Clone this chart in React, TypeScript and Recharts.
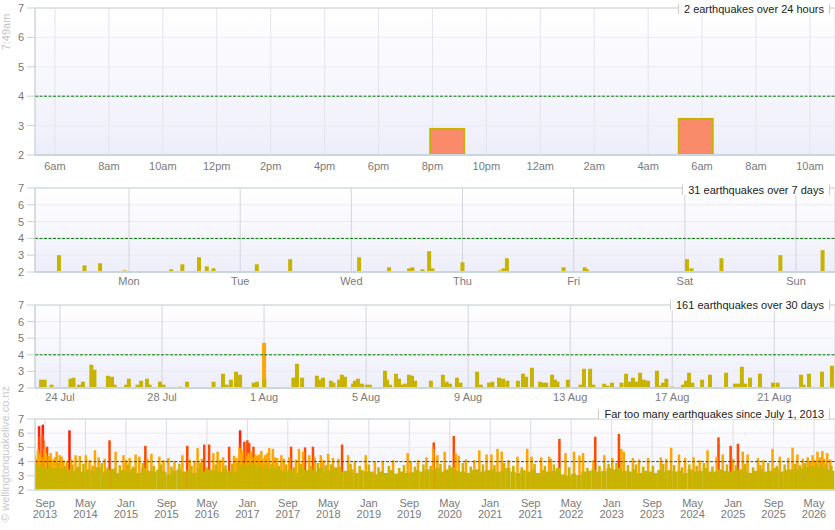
import React from 'react';
import { ComposedChart, Bar, XAxis, YAxis, CartesianGrid, ReferenceLine } from 'recharts';

const FONT = '"Liberation Sans", Arial, Helvetica, sans-serif';

// ---------- shared ----------
const magTicks = [2, 3, 4, 5, 6, 7];
const magDomain: [number, number] = [2, 7];
const alertMag = 4;

// ---------- panel 1 : last 24 hours (hours after midnight, Sat 22 Aug) ----------
const dayDomain: [number, number] = [5.26, 34.93];
const dayTicks = [6, 8, 10, 12, 14, 16, 18, 20, 22, 24, 26, 28, 30, 32, 34];
const dayTickLabels = ['6am', '8am', '10am', '12pm', '2pm', '4pm', '6pm', '8pm', '10pm', '12am', '2am', '4am', '6am', '8am', '10am'];
const dayHours = [20.54, 29.76];
const dayMags = [2.92, 3.26];

// ---------- panel 2 : last 7 days (days after Mon 17 Aug) ----------
const weekDomain: [number, number] = [-0.846, 6.351];
const weekTicks = [0, 1, 2, 3, 4, 5, 6];
const weekTickLabels = ['Mon', 'Tue', 'Wed', 'Thu', 'Fri', 'Sat', 'Sun'];
const weekDays = [-0.63, -0.4, -0.26, -0.04, 0.38, 0.48, 0.63, 0.7, 0.76, 1.15, 1.45, 2.07, 2.34, 2.52, 2.55, 2.64, 2.7, 2.71, 2.73, 3.0, 3.34, 3.37, 3.4, 3.91, 4.1, 4.12, 5.02, 5.06, 5.33, 5.86, 6.24];
const weekMags = [3.0, 2.4, 2.52, 2.1, 2.16, 2.46, 2.88, 2.34, 2.22, 2.46, 2.76, 2.88, 2.28, 2.22, 2.28, 2.16, 3.24, 2.2, 2.22, 2.58, 2.1, 2.22, 2.82, 2.28, 2.28, 2.16, 2.76, 2.22, 2.82, 3.0, 3.3];

// ---------- panel 3 : last 30 days (days after 24 Jul) ----------
const monthDomain: [number, number] = [-0.98, 30.38];
const monthTicks = [0, 4, 8, 12, 16, 20, 24, 28];
const monthTickLabels = ['24 Jul', '28 Jul', '1 Aug', '5 Aug', '9 Aug', '13 Aug', '17 Aug', '21 Aug'];
const monthDays = [
  -0.74, -0.6, -0.33, 0.41, 0.53, 0.74, 0.9, 1.23, 1.35, 1.88, 2.04, 2.14, 2.59, 2.7, 3.04, 3.18, 3.41, 3.51, 3.92, 4.06,
  4.7, 4.98, 6.02, 6.39, 6.53, 6.7, 6.9, 7.06, 7.59, 7.72, 8.0, 8.01, 9.15, 9.29, 9.49, 10.07, 10.19, 10.31, 10.62, 10.72,
  10.94, 11.05, 11.17, 11.49, 11.56, 11.68, 11.84, 12.03, 12.15, 12.74, 12.82, 12.94, 13.17, 13.29, 13.37, 13.52, 13.68, 13.8, 13.92,
  14.54, 15.01, 15.15, 15.29, 15.56, 15.7, 16.35, 16.5, 16.82, 16.95, 17.21, 17.37, 17.54, 17.95, 18.15, 18.27, 18.5, 18.82,
  18.96, 19.06, 19.29, 19.4, 19.5, 19.91, 20.4, 20.54, 20.78, 20.91, 21.33, 21.46, 21.64, 22.01, 22.19, 22.32, 22.46, 22.6,
  22.74, 22.89, 23.05, 23.4, 23.54, 23.64, 23.77, 23.99, 24.42, 24.54, 24.66, 24.79, 25.17, 25.48, 26.11, 26.46, 26.6, 26.73,
  26.85, 27.05, 27.44, 27.95, 28.13, 29.05, 29.15, 29.36, 29.87, 30.26,
];
const monthMags = [
  2.5, 2.5, 2.2, 2.56, 2.62, 2.2, 2.38, 3.4, 3.1, 2.74, 2.68, 2.2, 2.2, 2.56, 2.2, 2.44, 2.56, 2.2, 2.38, 2.2,
  2.08, 2.38, 2.38, 2.86, 2.2, 2.5, 2.98, 2.8, 2.32, 2.38, 4.72, 2.56, 2.62, 3.46, 2.62, 2.74, 2.5, 2.62, 2.44, 2.32,
  2.5, 2.8, 2.68, 2.26, 2.44, 2.56, 2.26, 2.2, 2.2, 3.04, 2.5, 2.2, 2.86, 2.56, 2.2, 2.26, 2.8, 2.74, 2.44,
  2.44, 2.8, 2.38, 2.26, 2.62, 2.32, 2.98, 2.2, 2.32, 2.38, 2.62, 2.56, 2.44, 2.44, 2.86, 2.68, 3.22, 2.38,
  2.32, 2.32, 2.8, 2.5, 2.38, 2.5, 2.2, 3.16, 3.16, 2.2, 2.26, 2.14, 2.32, 2.32, 2.86, 2.38, 2.62, 2.38,
  2.92, 2.5, 2.44, 3.04, 2.14, 2.32, 2.56, 2.08, 2.2, 2.44, 2.92, 2.32, 2.5, 2.8, 2.92, 2.26, 2.26, 3.28,
  2.26, 2.62, 2.86, 2.32, 2.32, 2.8, 2.2, 2.86, 2.98, 3.34,
];

// ---------- panel 4 : since July 1, 2013 (decimal years) ----------
const eraDomain: [number, number] = [2013.502, 2026.679];
const eraStart = 2013.5;
const eraTickLabels = ['Sep 2013', 'May 2014', 'Jan 2015', 'Sep 2015', 'May 2016', 'Jan 2017', 'Sep 2017', 'May 2018', 'Jan 2019', 'Sep 2019', 'May 2020', 'Jan 2021', 'Sep 2021', 'May 2022', 'Jan 2023', 'Sep 2023', 'May 2024', 'Jan 2025', 'Sep 2025', 'May 2026'];
// typical upper edge of the sub-4 mass per month, Jul 2013 .. Aug 2026
const eraMonthlyLevel = [
  3.6, 3.65, 3.5, 3.55, 3.45, 3.5,
  3.45, 3.35, 3.55, 3.3, 3.45, 3.35, 3.6, 3.25, 3.4, 3.5, 3.2, 3.4,
  3.3, 3.5, 3.2, 3.55, 3.35, 3.3, 3.45, 3.3, 3.1, 3.35, 3.45, 3.3,
  3.4, 3.2, 3.55, 3.3, 3.45, 3.35, 3.3, 3.5, 3.35, 3.3, 3.65, 3.75,
  3.75, 3.7, 3.65, 3.6, 3.5, 3.55, 3.4, 3.3, 3.45, 3.2, 3.55, 3.4,
  3.45, 3.3, 3.55, 3.35, 3.4, 3.6, 3.3, 3.35, 3.45, 3.2, 3.4, 3.3,
  3.3, 3.1, 3.3, 3.2, 3.4, 3.15, 3.3, 3.2, 3.25, 3.4, 3.3, 3.45,
  3.4, 3.55, 3.3, 3.45, 3.6, 3.35, 3.3, 3.2, 3.4, 3.45, 3.3, 3.4,
  3.45, 3.3, 3.35, 3.55, 3.3, 3.2, 3.4, 3.3, 3.45, 3.2, 3.4, 3.3,
  3.35, 3.55, 3.1, 3.0, 3.15, 3.05, 3.3, 3.35, 3.45, 3.3, 3.35, 3.55,
  3.45, 3.55, 3.35, 3.3, 3.45, 3.2, 3.35, 3.3, 3.2, 3.4, 3.3, 3.4,
  3.3, 3.35, 3.2, 3.45, 3.3, 3.35, 3.55, 3.3, 3.3, 3.45, 3.35, 3.3,
  3.35, 3.45, 3.3, 3.2, 3.35, 3.45, 3.3, 3.35, 3.55, 3.3, 3.4, 3.45,
  3.4, 3.55, 3.6, 3.7, 3.65, 3.55, 3.45, 3.35,
];
// individual sub-4 quakes standing above the mass
const eraSmallYears = [
  2013.53, 2013.6, 2013.74, 2013.88, 2014.0, 2014.12, 2014.21, 2014.3, 2014.45, 2014.6, 2014.7, 2014.9, 2015.03, 2015.12, 2015.28,
  2015.46, 2015.58, 2015.75, 2015.88, 2016.08, 2016.22, 2016.33, 2016.48, 2016.64, 2016.75, 2016.85, 2016.94, 2017.05, 2017.11, 2017.2,
  2017.31, 2017.4, 2017.52, 2017.64, 2017.77, 2017.88, 2018.05, 2018.16, 2018.29, 2018.38, 2018.53, 2018.7, 2018.85, 2019.0, 2019.16,
  2019.33, 2019.5, 2019.58, 2019.76, 2019.9, 2020.02, 2020.18, 2020.33, 2020.55, 2020.68, 2020.88, 2021.07, 2021.23, 2021.38, 2021.52,
  2021.73, 2021.9, 2022.05, 2022.3, 2022.6, 2022.8, 2022.95, 2023.08, 2023.27, 2023.4, 2023.52, 2023.68, 2023.85, 2024.03, 2024.16,
  2024.28, 2024.4, 2024.52, 2024.66, 2024.9, 2025.05, 2025.2, 2025.33, 2025.45, 2025.58, 2025.72, 2025.85, 2026.02, 2026.1, 2026.19,
  2026.27, 2026.37, 2026.45, 2026.53, 2026.62,
];
const eraSmallMags = [
  3.9, 3.85, 3.8, 3.9, 3.7, 3.8, 3.65, 3.85, 3.7, 3.9, 3.6, 3.75, 3.8, 3.65, 3.9,
  3.7, 3.8, 3.65, 3.85, 3.7, 3.9, 3.6, 3.8, 3.75, 3.85, 3.95, 3.9, 3.95, 3.85, 3.9,
  3.8, 3.85, 3.7, 3.8, 3.6, 3.85, 3.7, 3.9, 3.75, 3.8, 3.65, 3.85, 3.7, 3.8, 3.6,
  3.7, 3.55, 3.75, 3.65, 3.8, 3.7, 3.85, 3.75, 3.9, 3.65, 3.8, 3.75, 3.9, 3.7, 3.6,
  3.85, 3.7, 3.8, 3.6, 3.55, 3.7, 3.85, 3.9, 3.75, 3.8, 3.65, 3.7, 3.85, 3.75, 3.6,
  3.8, 3.7, 3.9, 3.65, 3.8, 3.75, 3.85, 3.6, 3.75, 3.9, 3.7, 3.8, 3.85, 3.75, 3.9,
  3.95, 3.85, 3.9, 3.8, 3.7,
];
// individual M4+ quakes
const eraYears = [
  2013.57, 2013.57, 2013.63, 2013.63, 2013.64, 2013.7, 2014.07, 2014.73, 2015.32, 2016.01, 2016.29, 2016.37, 2016.7, 2016.88, 2016.88,
  2016.95, 2017.0, 2017.03, 2017.1, 2017.72, 2017.95, 2018.08, 2018.56, 2020.07, 2020.4, 2022.14, 2022.73, 2023.12, 2024.76, 2024.96, 2025.08,
  2013.5, 2013.52, 2013.55, 2013.58, 2013.61, 2013.66, 2013.68, 2013.73, 2013.76, 2013.79, 2013.83, 2013.86, 2013.91, 2013.94, 2013.97,
  2014.03, 2014.1, 2014.17, 2014.24, 2014.34, 2014.4, 2014.49, 2014.55, 2014.65, 2014.83, 2014.96, 2015.0, 2015.06, 2015.16, 2015.22,
  2015.35, 2015.42, 2015.55, 2015.62, 2015.7, 2015.8, 2015.93, 2016.05, 2016.13, 2016.18, 2016.25, 2016.44, 2016.51, 2016.55, 2016.6,
  2016.78, 2016.82, 2016.87, 2016.9, 2016.92, 2016.98, 2017.02, 2017.06, 2017.08, 2017.13, 2017.16, 2017.19, 2017.23, 2017.26, 2017.29,
  2017.33, 2017.36, 2017.42, 2017.46, 2017.49, 2017.56, 2017.6, 2017.69, 2017.8, 2017.85, 2017.92, 2018.02, 2018.11, 2018.21, 2018.25,
  2018.33, 2018.41, 2018.5, 2018.66, 2018.77, 2018.95, 2019.1, 2019.23, 2019.4, 2019.64, 2019.69, 2019.81, 2019.95, 2020.06, 2020.13,
  2020.25, 2020.43, 2020.48, 2020.6, 2020.74, 2020.82, 2020.94, 2021.02, 2021.12, 2021.19, 2021.3, 2021.45, 2021.61, 2021.68, 2021.84,
  2021.97, 2022.0, 2022.24, 2022.38, 2022.47, 2022.53, 2022.7, 2022.88, 2023.01, 2023.16, 2023.2, 2023.35, 2023.45, 2023.6, 2023.81,
  2023.9, 2023.98, 2024.11, 2024.21, 2024.35, 2024.45, 2024.58, 2024.73, 2024.83, 2025.0, 2025.16, 2025.24, 2025.41, 2025.5, 2025.65,
  2025.77, 2025.91, 2025.98, 2026.06, 2026.15, 2026.23, 2026.31, 2026.35, 2026.39, 2026.43, 2026.47, 2026.5, 2026.55, 2026.6,
];
const eraMags = [
  6.5, 5.75, 6.6, 5.9, 5.5, 5.05, 6.2, 5.5, 5.1, 5.1, 5.2, 5.2, 5.05, 6.2, 5.3,
  5.4, 5.5, 5.3, 5.05, 5.05, 5.0, 5.05, 5.2, 5.35, 5.8, 5.6, 5.75, 5.95, 5.7, 5.1, 5.25,
  4.43, 4.2, 4.8, 4.5, 4.3, 4.9, 4.6, 4.4, 4.6, 4.15, 4.3, 4.7, 4.45, 4.35, 4.1,
  4.0, 4.15, 4.45, 4.4, 4.45, 4.1, 4.8, 4.3, 4.2, 4.7, 4.45, 4.1, 4.25, 4.5, 4.35,
  4.2, 4.55, 4.35, 4.1, 4.25, 4.05, 4.45, 4.15, 4.05, 4.95, 4.2, 4.6, 4.7, 4.1, 4.3,
  4.4, 4.25, 4.95, 4.6, 4.8, 4.4, 4.6, 4.7, 4.3, 4.5, 4.4, 4.5, 4.75, 4.2, 4.45,
  4.6, 4.95, 4.9, 4.3, 4.25, 4.45, 4.2, 4.3, 4.15, 4.9, 4.7, 4.45, 4.3, 4.45, 4.1,
  4.55, 4.25, 4.2, 4.45, 4.05, 4.45, 4.0, 4.05, 4.1, 4.6, 4.0, 4.1, 4.3, 4.9, 4.45,
  4.7, 4.6, 4.43, 4.15, 4.1, 4.8, 4.5, 4.5, 4.9, 4.7, 4.1, 4.35, 4.9, 4.35, 4.3,
  4.35, 4.2, 4.6, 4.7, 4.43, 4.6, 4.1, 4.45, 4.25, 4.9, 4.7, 4.25, 4.15, 4.25, 4.3,
  4.2, 4.98, 4.5, 4.25, 4.3, 4.1, 4.8, 4.35, 4.5, 4.2, 4.7, 4.5, 4.25, 4.1, 4.9,
  4.35, 4.25, 4.98, 4.5, 4.2, 4.3, 4.45, 4.1, 4.7, 4.3, 4.75, 4.2, 4.6, 4.15,
];

// ---------- colours ----------
const magColor = (m: number) => (m >= 6 ? '#ff1e00' : m >= 5 ? '#ff4800' : m >= 4 ? '#ffa500' : '#c8b400');
const recentFill = '#f98b6b';

// ---------- tables ----------
type Row = { t: number; mag: number; wide?: boolean };
const byMagDesc = (a: Row, b: Row) => b.mag - a.mag;
const zipRows = (ts: number[], ms: number[]): Row[] => ts.map((t, i) => ({ t, mag: ms[i] })).sort(byMagDesc);

const dayRows = zipRows(dayHours, dayMags);
const weekRows = zipRows(weekDays, weekMags);
const monthRows = zipRows(monthDays, monthMags);
const eraRows: Row[] = [
  ...eraMonthlyLevel.map((m, i) => ({ t: eraStart + (i + 0.5) / 12, mag: m, wide: true })),
  ...eraSmallYears.map((t, i) => ({ t, mag: eraSmallMags[i], wide: false })),
  ...eraYears.map((t, i) => ({ t, mag: eraMags[i], wide: false })),
].sort(byMagDesc);

const monthIndex: Record<string, number> = { Jan: 0, May: 4, Sep: 8 };
const eraTicks = eraTickLabels.map((l) => {
  const [mo, yr] = l.split(' ');
  return Number(yr) + monthIndex[mo] / 12;
});

// ---------- shapes ----------
const quakeShape = (w: number, wideW?: number) => (p: any) => {
  const { x, y, width, height } = p;
  const row: Row = p.payload || p;
  if (!(height > 0)) return <g />;
  const bw = row.wide && wideW ? wideW : w;
  const cx = x + width / 2;
  return <rect x={cx - bw / 2} y={y} width={bw} height={height} fill={magColor(row.mag)} />;
};

const recentShape = (p: any) => {
  const { x, y, width, height } = p;
  const row: Row = p.payload || p;
  if (!(height > 0)) return <g />;
  const cx = x + width / 2;
  return (
    <rect x={cx - 17} y={y + 1} width={34} height={height - 1} fill={recentFill} stroke={magColor(row.mag)} strokeWidth={2} />
  );
};

// ---------- ticks ----------
const labelTick = (ticks: number[], labels: string[], dy: number) => (p: any) => {
  const i = ticks.indexOf(p.payload.value);
  return (
    <text x={p.x} y={p.y + dy} textAnchor="middle" fill="#7a7a7a" fontSize={11} fontFamily={FONT}>
      {labels[i] ?? ''}
    </text>
  );
};

const eraTick = (p: any) => {
  const i = eraTicks.indexOf(p.payload.value);
  const [mo, yr] = (eraTickLabels[i] || ' ').split(' ');
  return (
    <text x={p.x} y={p.y} textAnchor="middle" fill="#7a7a7a" fontSize={11} fontFamily={FONT}>
      <tspan x={p.x} dy={16.5}>{mo}</tspan>
      <tspan x={p.x} dy={11}>{yr}</tspan>
    </text>
  );
};

// ---------- panel ----------
type PanelProps = {
  id: string;
  top: number;
  height: number;
  marginTop: number;
  xHeight: number;
  rows: Row[];
  domain: [number, number];
  ticks: number[];
  tick: any;
  shape: any;
  vGrid: string;
  hGrid: string;
};

const Panel = ({ id, top, height, marginTop, xHeight, rows, domain, ticks, tick, shape, vGrid, hGrid }: PanelProps) => (
  <div style={{ position: 'absolute', left: 0, top }}>
    <ComposedChart width={835} height={height} data={rows} margin={{ top: marginTop, right: 0, bottom: 0, left: 0 }}>
      <defs>
        <linearGradient id={id} x1="0" y1="0" x2="0" y2="1">
          <stop offset="0" stopColor="#ffffff" />
          <stop offset="1" stopColor="#eeeefb" />
        </linearGradient>
      </defs>
      <CartesianGrid vertical={false} stroke={hGrid} fill={`url(#${id})`} />
      <CartesianGrid horizontal={false} stroke={vGrid} />
      <XAxis
        type="number"
        dataKey="t"
        domain={domain}
        ticks={ticks}
        interval={0}
        allowDataOverflow
        height={xHeight}
        tickLine={false}
        tickSize={0}
        tickMargin={0}
        tick={tick}
        axisLine={{ stroke: '#c9d6dd', strokeWidth: 2 }}
      />
      <YAxis
        type="number"
        domain={magDomain}
        ticks={magTicks}
        interval={0}
        allowDataOverflow
        width={35}
        tickSize={8}
        tickMargin={3}
        tick={{ fontSize: 11, fill: '#777', fontFamily: FONT }}
        tickLine={{ stroke: '#c6d3da' }}
        axisLine={{ stroke: '#c8d0d0' }}
      />
      <Bar dataKey="mag" barSize={1} shape={shape} isAnimationActive={false} />
      <ReferenceLine y={7} stroke="#d6dddd" strokeWidth={1.5} />
      <ReferenceLine y={alertMag} stroke="#007800" strokeDasharray="3 1.5" strokeWidth={1} />
    </ComposedChart>
  </div>
);

const Title = ({ top, text }: { top: number; text: string }) => (
  <div
    style={{
      position: 'absolute',
      top,
      right: 5,
      fontFamily: FONT,
      fontSize: 11,
      lineHeight: '10px',
      color: '#222',
      background: '#fff',
      borderLeft: '1px solid #ccc',
      borderRight: '1px solid #ccc',
      padding: '0 5px',
      whiteSpace: 'nowrap',
    }}
  >
    {text}
  </div>
);

export default function App() {
  return (
    <div style={{ position: 'absolute', left: 0, top: 0, width: 835, height: 530, background: '#fff', overflow: 'hidden' }}>
      <Panel id="g1" top={0} height={175} marginTop={8} xHeight={20} rows={dayRows} domain={dayDomain} ticks={dayTicks}
        tick={labelTick(dayTicks, dayTickLabels, 14.5)} shape={recentShape} vGrid="#e4e4ec" hGrid="#ebebf2" />
      <Panel id="g2" top={180} height={112} marginTop={8} xHeight={20} rows={weekRows} domain={weekDomain} ticks={weekTicks}
        tick={labelTick(weekTicks, weekTickLabels, 13)} shape={quakeShape(4)} vGrid="#d4d4dc" hGrid="#ebebf2" />
      <Panel id="g3" top={295} height={113} marginTop={10} xHeight={20} rows={monthRows} domain={monthDomain} ticks={monthTicks}
        tick={labelTick(monthTicks, monthTickLabels, 13.4)} shape={quakeShape(4)} vGrid="#d4d4dc" hGrid="#ebebf2" />
      <Panel id="g4" top={410} height={115} marginTop={9} xHeight={35} rows={eraRows} domain={eraDomain} ticks={eraTicks}
        tick={eraTick} shape={quakeShape(2.5, 5.1)} vGrid="#dcdce4" hGrid="#ebebf2" />
      <svg width={835} height={530} style={{ position: 'absolute', left: 0, top: 0, pointerEvents: 'none' }}>
        <text x={10} y={32} transform="rotate(-90 10 32)" textAnchor="middle" fontSize={11} fontFamily={FONT} fill="#c4c4c4">
          7:49am
        </text>
        <text x={9} y={454} transform="rotate(-90 9 454)" textAnchor="middle" fontSize={11} fontFamily={FONT} fill="#c8c8c8">
          © wellingtonquakelive.co.nz
        </text>
      </svg>
      <Title top={4} text="2 earthquakes over 24 hours" />
      <Title top={184.5} text="31 earthquakes over 7 days" />
      <Title top={300} text="161 earthquakes over 30 days" />
      <Title top={409} text="Far too many earthquakes since July 1, 2013" />
    </div>
  );
}
